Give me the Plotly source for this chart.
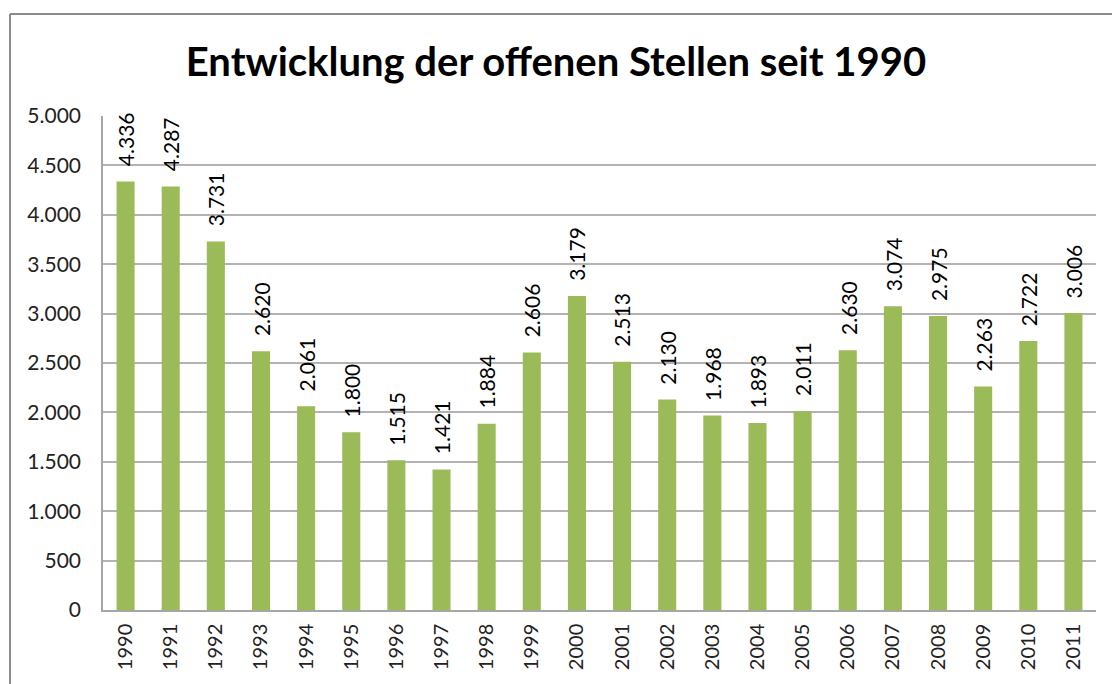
import plotly.graph_objects as go

years = [str(y) for y in range(1990, 2012)]
values = [4336, 4287, 3731, 2620, 2061, 1800, 1515, 1421, 1884, 2606, 3179,
          2513, 2130, 1968, 1893, 2011, 2630, 3074, 2975, 2263, 2722, 3006]
title_text = "Entwicklung der offenen Stellen seit 1990"
y_ticks = [0, 500, 1000, 1500, 2000, 2500, 3000, 3500, 4000, 4500, 5000]

W, H = 1112, 684
L, R, T, B = 103, 16, 116, 74
pw, ph = W - L - R, H - T - B

def px_x(p):
    return (p - L) / pw

def px_y(p):
    return (H - B - p) / ph

def de(v):
    return f"{v:,}".replace(",", ".")

FONT = "Lato"

fig = go.Figure()
fig.add_trace(go.Bar(x=years, y=values, marker_color="#9BBB59",
                     marker_line_width=0, width=0.4))

annotations = []
for i, v in enumerate(values):
    annotations.append(dict(x=i, y=v, xref="x", yref="y", text=de(v),
                            textangle=-90, showarrow=False, yanchor="bottom",
                            xanchor="center", yshift=13,
                            font=dict(size=21, color="#000000", family=FONT)))

fig.update_layout(
    width=W, height=H,
    margin=dict(l=L, r=R, t=T, b=B, autoexpand=False),
    paper_bgcolor="white", plot_bgcolor="white",
    separators=",.",
    showlegend=False,
    title=dict(text=f"<b>{title_text}</b>", x=0.5, xanchor="center",
               y=1 - 62 / H, yanchor="middle",
               font=dict(size=40, color="#000000", family=FONT)),
    xaxis=dict(type="category", tickangle=-90, showgrid=False,
               range=[-0.5, len(years) - 0.5], automargin=False,
               showline=True, linecolor="#a6a6a6", linewidth=1.5,
               ticks="outside", ticklen=4, tickcolor="rgba(0,0,0,0)",
               tickfont=dict(size=20, color="#222222", family=FONT)),
    yaxis=dict(range=[0, 5000], tickvals=y_ticks, automargin=False,
               ticktext=[de(v) for v in y_ticks],
               showgrid=True, gridcolor="#b3b3b3", gridwidth=1.5,
               showline=True, linecolor="#a6a6a6", linewidth=1.5,
               zeroline=False,
               ticks="outside", ticklen=16, tickcolor="rgba(0,0,0,0)",
               tickfont=dict(size=21, color="#222222", family=FONT)),
    annotations=annotations,
    shapes=[
        dict(type="line", xref="paper", yref="paper",
             x0=px_x(10), x1=px_x(W + 5), y0=px_y(14), y1=px_y(14),
             line=dict(color="#8c8c8c", width=2)),
        dict(type="line", xref="paper", yref="paper",
             x0=px_x(10), x1=px_x(10), y0=px_y(14), y1=px_y(H + 5),
             line=dict(color="#8c8c8c", width=2)),
    ],
)

fig.write_html("out.html", config={"displayModeBar": False},
               post_script="document.body.style.margin='0px';document.body.style.overflow='hidden';")
